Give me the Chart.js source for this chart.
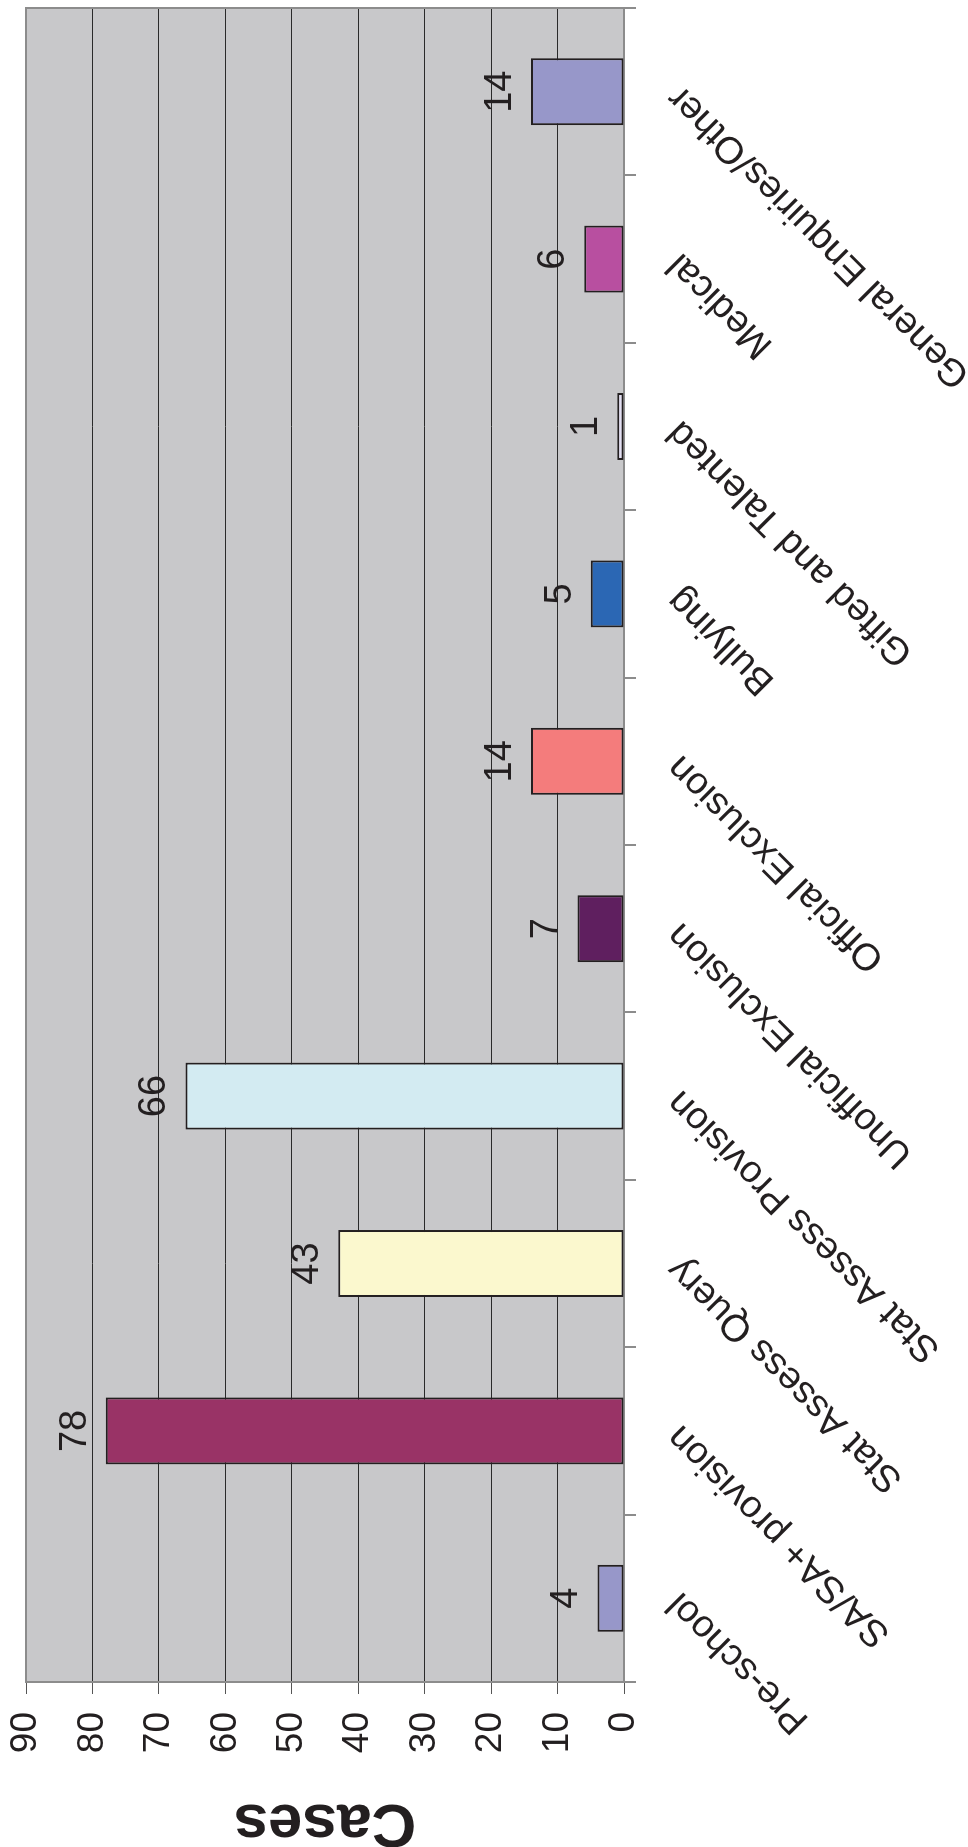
<!DOCTYPE html>
<html>
<head>
<meta charset="utf-8">
<script src="https://cdn.jsdelivr.net/npm/chart.js@4"></script>
<style>
  html, body { margin: 0; padding: 0; background: #fff; overflow: hidden; }
  #page { position: relative; width: 968px; height: 1847px; }
  /* chart is drawn upright, then turned a quarter left like the scan */
  #turn {
    position: absolute; left: 0; top: 0;
    width: 1847px; height: 968px;
    transform-origin: 0 0;
    transform: translate(0, 1847px) rotate(-90deg);
  }
</style>
</head>
<body>
<div id="page">
  <div id="turn"><canvas id="myChart" width="1847" height="968"></canvas></div>
</div>
<script>
const categories = ['Pre-school', 'SA/SA+ provision', 'Stat Assess Query', 'Stat Assess Provision',
  'Unofficial Exclusion', 'Official Exclusion', 'Bullying', 'Gifted and Talented', 'Medical',
  'General Enquiries/Other'];
const cases = [4, 78, 43, 66, 7, 14, 5, 1, 6, 14];
const barColours = ['#9797c9', '#993366', '#fbf8ce', '#d3ebf2', '#5f1f5f', '#f47c7c',
  '#2b67b4', '#e2def2', '#b84fa0', '#9797c9'];
const yTicks = [0, 10, 20, 30, 40, 50, 60, 70, 80, 90];

const ink = '#231f20';
const font = 'Liberation Sans, Arial, Helvetica, sans-serif';

// grey plot background and frame
const plotBox = {
  id: 'plotBox',
  beforeDraw(chart) {
    const a = chart.chartArea, c = chart.ctx;
    c.save();
    c.fillStyle = '#c8c8ca';
    c.fillRect(a.left, a.top, a.right - a.left, a.bottom - a.top);
    c.restore();
  },
  beforeDatasetsDraw(chart) {
    const a = chart.chartArea, c = chart.ctx;
    c.save();
    c.strokeStyle = '#8c8c8c';
    c.lineWidth = 2;
    c.strokeRect(a.left, a.top, a.right - a.left, a.bottom - a.top);
    c.restore();
  }
};

// numbers above the bars
const valueLabels = {
  id: 'valueLabels',
  afterDatasetsDraw(chart) {
    const c = chart.ctx;
    const meta = chart.getDatasetMeta(0);
    c.save();
    c.fillStyle = ink;
    c.font = '38px ' + font;
    c.textAlign = 'center';
    c.textBaseline = 'alphabetic';
    meta.data.forEach((bar, i) => {
      c.fillText(String(chart.data.datasets[0].data[i]), bar.x, bar.y - 20);
    });
    c.restore();
  }
};

const ctx = document.getElementById('myChart');

new Chart(ctx, {
  type: 'bar',
  data: {
    labels: categories,
    datasets: [{
      label: 'Cases',
      data: cases,
      backgroundColor: barColours,
      borderColor: ink,
      borderWidth: 2,
      borderSkipped: false,
      categoryPercentage: 1,
      barPercentage: 0.4
    }]
  },
  options: {
    responsive: false,
    animation: false,
    devicePixelRatio: 1,
    layout: { padding: { top: 26, right: 8, left: 0, bottom: 0 } },
    plugins: {
      legend: { display: false },
      tooltip: { enabled: false }
    },
    scales: {
      x: {
        offset: true,
        grid: { offset: true, drawOnChartArea: false, drawTicks: true, tickLength: 12, color: '#8c8c8c', lineWidth: 2 },
        border: { display: false },
        ticks: {
          autoSkip: false, minRotation: 45, maxRotation: 45, padding: 22,
          color: ink, font: { family: font, size: 38 }
        },
        afterFit(scale) { scale.height = 344; scale.paddingRight = 0; }
      },
      y: {
        min: 0, max: 90,
        afterBuildTicks(scale) { scale.ticks = yTicks.map(v => ({ value: v })); },
        grid: { color: '#2a2a2a', lineWidth: 1, tickLength: 12, tickColor: '#555' },
        border: { display: false },
        ticks: { padding: 18, color: ink, font: { family: font, size: 37 } },
        title: {
          display: true, text: 'Cases', color: ink,
          font: { family: font, size: 62, weight: 'bold', lineHeight: 0.8 },
          padding: 0
        },
        afterFit(scale) { scale.width = 165; scale.paddingTop = 0; scale.paddingBottom = 0; }
      }
    }
  },
  plugins: [plotBox, valueLabels]
});
</script>
</body>
</html>
